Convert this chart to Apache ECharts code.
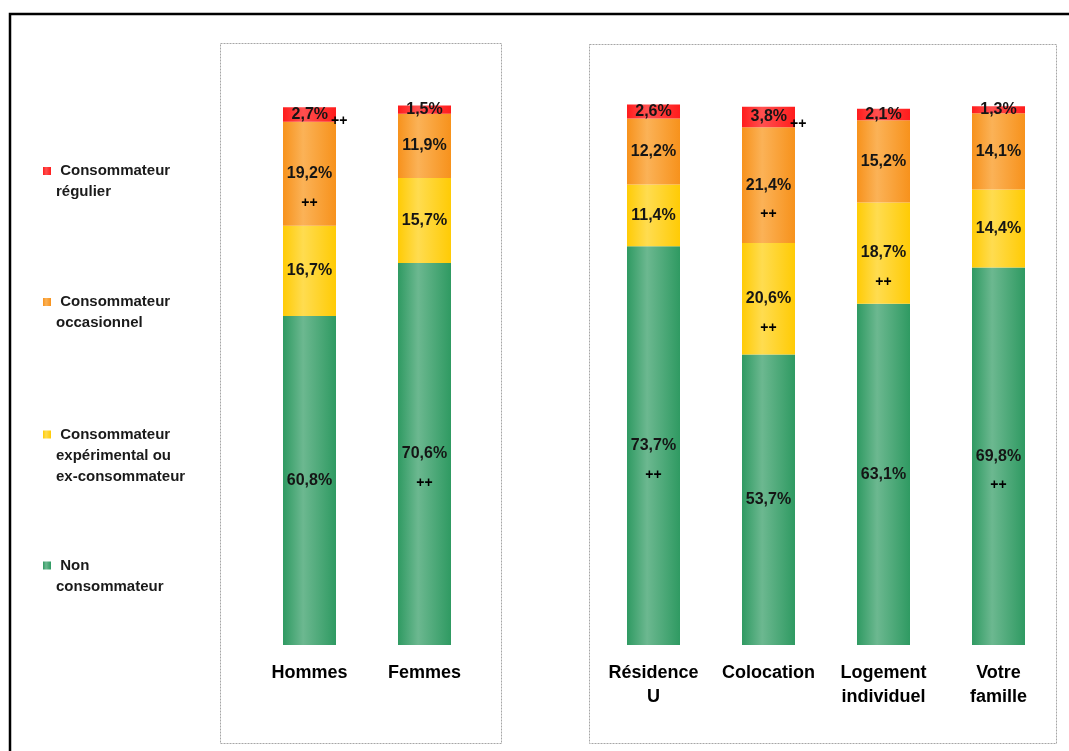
<!DOCTYPE html>
<html>
<head>
<meta charset="utf-8">
<script src="https://cdn.jsdelivr.net/npm/echarts@6/dist/echarts.min.js"></script>
<style>
html,body{margin:0;padding:0;background:#fff;}
#chart{width:1069px;height:751px;}
</style>
</head>
<body>
<div id="chart"></div>
<script>
// ---- data ----
const categoriesLeft = ['Hommes', 'Femmes'];
const categoriesRight = ['Résidence\nU', 'Colocation', 'Logement\nindividuel', 'Votre\nfamille'];

const nonConsoLeft = [60.8, 70.6];
const experimentalLeft = [16.7, 15.7];
const occasionnelLeft = [19.2, 11.9];
const regulierLeft = [2.7, 1.5];

const nonConsoRight = [73.7, 53.7, 63.1, 69.8];
const experimentalRight = [11.4, 20.6, 18.7, 14.4];
const occasionnelRight = [12.2, 21.4, 15.2, 14.1];
const regulierRight = [2.6, 3.8, 2.1, 1.3];

// significance markers "++" : 'below' the value, 'right' of the bar, or none
const sigNonLeft = ['', 'below'];
const sigExpLeft = ['', ''];
const sigOccLeft = ['below', ''];
const sigRegLeft = ['right', ''];

const sigNonRight = ['below', '', '', 'below'];
const sigExpRight = ['', 'below', 'below', ''];
const sigOccRight = ['', 'below', '', ''];
const sigRegRight = ['', 'right', '', ''];

const nameReg = ' Consommateur\nrégulier';
const nameOcc = ' Consommateur\noccasionnel';
const nameExp = ' Consommateur\nexpérimental ou\nex-consommateur';
const nameNon = ' Non\nconsommateur';

// ---- styling ----
const FONT = 'Liberation Sans';
function grad(edge, light) {
  return new echarts.graphic.LinearGradient(0, 0, 1, 0, [
    {offset: 0, color: edge},
    {offset: 0.38, color: light},
    {offset: 1, color: edge}
  ]);
}
const colRed = grad('#ff1c1c', '#ff5050');
const colOrange = grad('#f7921c', '#fbb257');
const colYellow = grad('#ffcb05', '#ffdc50');
const colGreen = grad('#2f9a62', '#6cb890');

const fmt = v => v.toFixed(1).replace('.', ',') + '%';

function items(values, sigs) {
  return values.map((v, i) => {
    const s = sigs[i];
    let label;
    if (s === 'below') label = {formatter: '{v|' + fmt(v) + '}\n{p|++}', offset: [0, 20]};
    else if (s === 'right') label = {formatter: '{v|' + fmt(v) + '}{r|++}', offset: [10, 0]};
    else label = {formatter: fmt(v)};
    return {value: v, label: label};
  });
}

const labelBase = {
  show: true, position: 'inside', fontFamily: FONT, fontSize: 16, fontWeight: 'bold', color: '#151515',
  rich: {
    v: {fontFamily: FONT, fontSize: 16, fontWeight: 'bold', color: '#151515', lineHeight: 18},
    p: {fontFamily: FONT, fontSize: 14, fontWeight: 'bold', color: '#000', lineHeight: 40},
    r: {fontFamily: FONT, fontSize: 14, fontWeight: 'bold', color: '#000', padding: [14, 0, 0, 3]}
  }
};

function bar(name, idx, stack, values, sigs, color) {
  return {
    name: name, type: 'bar', stack: stack, xAxisIndex: idx, yAxisIndex: idx,
    barWidth: 53, itemStyle: {color: color}, label: labelBase,
    emphasis: {disabled: true},
    data: items(values, sigs)
  };
}

// square icon placed at the top of a taller (invisible) icon box so it lines up with the first text line
function legend(name, top, boxH) {
  return {
    data: [name], left: 43, top: top, orient: 'vertical', padding: 0,
    selectedMode: false,
    icon: 'path://M0,0H8V8H0Z M0,' + boxH + 'H0.01V' + (boxH - 0.01) + 'Z',
    itemWidth: 8, itemHeight: boxH, itemGap: 0,
    textStyle: {fontFamily: FONT, fontSize: 15, fontWeight: 'bold', color: '#1a1a1a', lineHeight: 21}
  };
}

const axisLabelStyle = {interval: 0, fontFamily: FONT, fontSize: 18, fontWeight: 'bold', color: '#000', lineHeight: 24, margin: 16};

const chart = echarts.init(document.getElementById('chart'), null, {renderer: 'canvas'});
chart.setOption({
  backgroundColor: '#fff',
  animation: false,
  graphic: [
    {type: 'rect', shape: {x: 10, y: 14, width: 1080, height: 760}, style: {fill: 'none', stroke: '#000', lineWidth: 2.5}, z: 0},
    {type: 'rect', shape: {x: 220.5, y: 43.5, width: 281, height: 700}, style: {fill: 'none', stroke: '#a6a6a6', lineWidth: 1, lineDash: [2, 1]}, z: 0},
    {type: 'rect', shape: {x: 589.5, y: 44.5, width: 467, height: 699}, style: {fill: 'none', stroke: '#a6a6a6', lineWidth: 1, lineDash: [2, 1]}, z: 0}
  ],
  legend: [
    legend(nameReg, 160.5, 29),
    legend(nameOcc, 291.5, 29),
    legend(nameExp, 424, 50),
    legend(nameNon, 555, 29)
  ],
  grid: [
    {left: 252, width: 230, top: 104, height: 541},
    {left: 596, width: 460, top: 104, height: 541}
  ],
  xAxis: [
    {type: 'category', gridIndex: 0, data: categoriesLeft, axisLine: {show: false}, axisTick: {show: false}, axisLabel: axisLabelStyle},
    {type: 'category', gridIndex: 1, data: categoriesRight, axisLine: {show: false}, axisTick: {show: false}, axisLabel: axisLabelStyle}
  ],
  yAxis: [
    {type: 'value', gridIndex: 0, min: 0, max: 100, show: false},
    {type: 'value', gridIndex: 1, min: 0, max: 100, show: false}
  ],
  series: [
    bar(nameNon, 0, 'L', nonConsoLeft, sigNonLeft, colGreen),
    bar(nameExp, 0, 'L', experimentalLeft, sigExpLeft, colYellow),
    bar(nameOcc, 0, 'L', occasionnelLeft, sigOccLeft, colOrange),
    bar(nameReg, 0, 'L', regulierLeft, sigRegLeft, colRed),
    bar(nameNon, 1, 'R', nonConsoRight, sigNonRight, colGreen),
    bar(nameExp, 1, 'R', experimentalRight, sigExpRight, colYellow),
    bar(nameOcc, 1, 'R', occasionnelRight, sigOccRight, colOrange),
    bar(nameReg, 1, 'R', regulierRight, sigRegRight, colRed)
  ]
});
</script>
</body>
</html>
